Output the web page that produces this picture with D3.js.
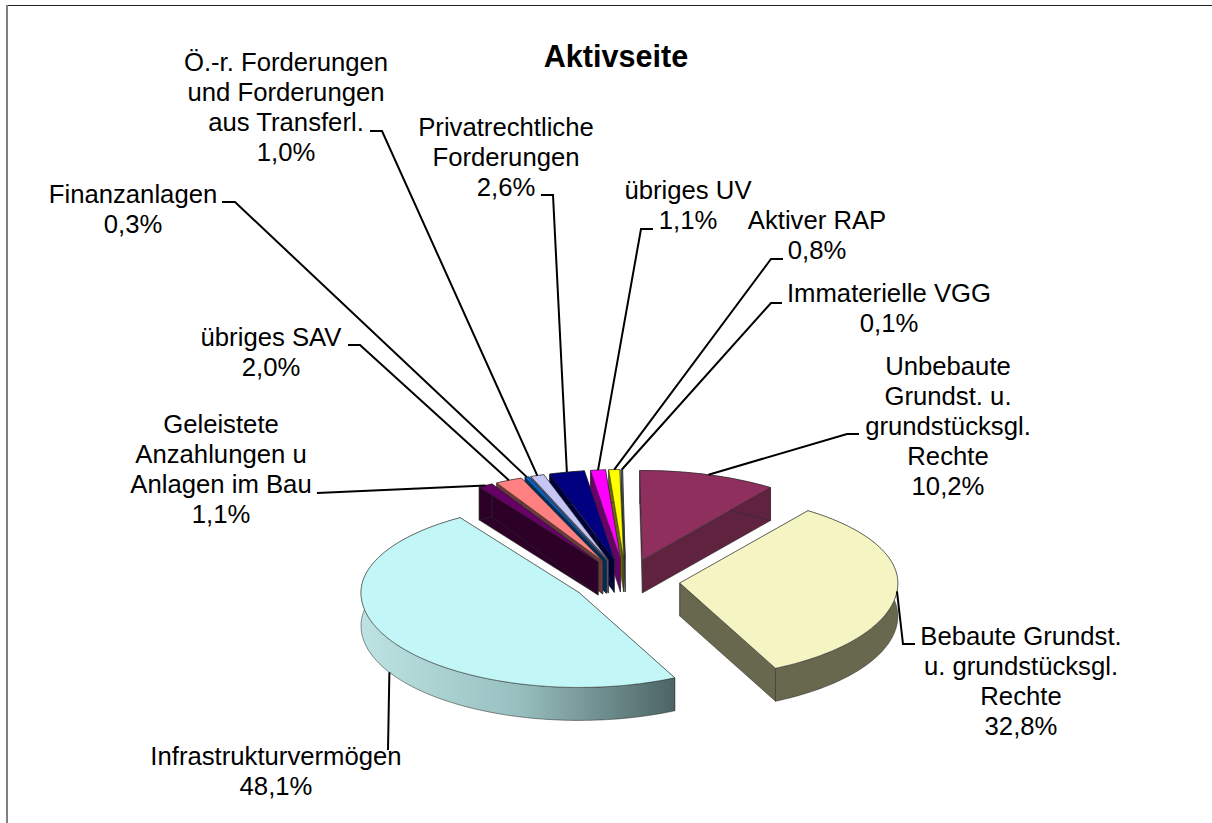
<!DOCTYPE html>
<html>
<head>
<meta charset="utf-8">
<script src="https://cdn.jsdelivr.net/npm/d3@7"></script>
<style>
html, body { margin: 0; padding: 0; background: #fff; }
svg { display: block; }
text { font-family: "Liberation Sans", Arial, sans-serif; fill: #000; }
</style>
</head>
<body>
<svg id="chart" width="1212" height="823"></svg>
<script>
// chart data, in pie order starting at 12 o'clock
var categories = ["Unbebaute Grundst. u. grundstücksgl. Rechte", "Bebaute Grundst. u. grundstücksgl. Rechte",
  "Infrastrukturvermögen", "Geleistete Anzahlungen u Anlagen im Bau", "übriges SAV", "Finanzanlagen",
  "Ö.-r. Forderungen und Forderungen aus Transferl.", "Privatrechtliche Forderungen", "übriges UV",
  "Aktiver RAP", "Immaterielle VGG"];
var values = [10.2, 32.8, 48.1, 1.1, 2.0, 0.3, 1.0, 2.6, 1.1, 0.8, 0.1];
var valueLabels = ["10,2%", "32,8%", "48,1%", "1,1%", "2,0%", "0,3%", "1,0%", "2,6%", "1,1%", "0,8%", "0,1%"];
var labelLines = [
  ["Unbebaute", "Grundst. u.", "grundstücksgl.", "Rechte"],
  ["Bebaute Grundst.", "u. grundstücksgl.", "Rechte"],
  ["Infrastrukturvermögen"],
  ["Geleistete", "Anzahlungen u", "Anlagen im Bau"],
  ["übriges SAV"],
  ["Finanzanlagen"],
  ["Ö.-r. Forderungen", "und Forderungen", "aus Transferl."],
  ["Privatrechtliche", "Forderungen"],
  ["übriges UV"],
  ["Aktiver RAP"],
  ["Immaterielle VGG"]
];

// styles per slice
var topColors = ["#8f2f5e", "#f5f5c4", "#c3f6f6", "#660066", "#ff8080", "#0066cc", "#c6c6f6", "#000080", "#ff00ff", "#ffff00", "#5f6f6f"];
var wallColors = ["#5f2340", "#68684f", "#b5dcdc", "#2c0027", "#6b3a3a", "#002c58", "#555570", "#000038", "#6b006b", "#6b6b00", "#3a4444"];

// label layout: centre x, first baseline
var labelX = [948, 1021, 276, 221, 271, 133, 286, 506, 688, 817, 889];
var labelY = [375, 645, 765, 433, 346, 203, 71, 136, 199, 229, 302];
// leader line: start next to the text, then elbow
var leaderStart = [[859, 434], [915, 644], null, [317, 493], [348, 345], [222, 202], [370, 131], [541, 195], [653, 229], [783, 259], [782, 303]];
var leaderElbow = [[847, 434], [903, 644], [388, 750], null, [360, 345], [235, 202], [382, 131], [553, 195], [641, 229], [771, 259], [771, 303]];

var width = 1212, height = 823;
var cx = 626, cy = 581;
var rx = 218, tiltBack = 0.41, tiltFront = 0.435, depth = 33, explode = 54;
var LINE = 30;

var svg = d3.select("#chart");

var grad = svg.append("defs").append("linearGradient")
  .attr("id", "infraWall").attr("gradientUnits", "userSpaceOnUse")
  .attr("x1", 360).attr("x2", 673).attr("y1", 0).attr("y2", 0);
grad.append("stop").attr("offset", "0%").attr("stop-color", "#bde3e3");
grad.append("stop").attr("offset", "50%").attr("stop-color", "#99c0c0");
grad.append("stop").attr("offset", "100%").attr("stop-color", "#4d6566");

// frame
svg.append("line").attr("x1", 6).attr("x2", width).attr("y1", 5.5).attr("y2", 5.5)
  .style("stroke", "#222").style("stroke-width", 1);
svg.append("line").attr("x1", 7).attr("x2", 7).attr("y1", 5).attr("y2", height)
  .style("stroke", "#808080").style("stroke-width", 2);

var pie = d3.pie().sort(null).startAngle(-0.012).endAngle(2 * Math.PI - 0.012);
var arcs = pie(values);

var rScale = d3.scaleLinear().domain([0, 1]).range([0, rx]);

// front half of the disc is a little taller than the back, the view has some perspective
function project(angle, r, tip) {
  var c = Math.cos(angle);
  return [tip[0] + Math.sin(angle) * r, tip[1] - c * r * (c < 0 ? tiltFront : tiltBack)];
}

function tipOf(d) {
  var mid = (d.startAngle + d.endAngle) / 2;
  return project(mid, explode, [cx, cy]);
}

function arcPoints(d, tip) {
  var n = Math.max(4, Math.ceil((d.endAngle - d.startAngle) * 40));
  return d3.range(n + 1).map(function(i) {
    return project(d.startAngle + (d.endAngle - d.startAngle) * i / n, rScale(1), tip);
  });
}

function down(p) { return [p[0], p[1] + depth]; }

var line = d3.line();

// back to front: small slices from right to left, the left ones hide the walls of the next
var drawOrder = [10, 9, 8, 7, 6, 5, 4, 3, 0, 1, 2];
var pieG = svg.append("g");

drawOrder.forEach(function(i) {
  var d = arcs[i];
  var tip = tipOf(d);
  var pts = arcPoints(d, tip);
  var first = pts[0], last = pts[pts.length - 1];
  var wall = i == 2 ? "url(#infraWall)" : wallColors[i];
  var g = pieG.append("g");

  var walls = [
    [tip, first, down(first), down(tip)],
    [tip, last, down(last), down(tip)],
    pts.concat(pts.slice().reverse().map(down))
  ];
  walls.forEach(function(w) {
    g.append("path").attr("d", line(w) + "Z")
      .style("fill", wall).style("stroke", "#2a2a2a").style("stroke-width", 0.7)
      .style("stroke-opacity", 0.75).style("stroke-linejoin", "round");
  });
  g.append("path").attr("d", line([tip].concat(pts)) + "Z")
    .style("fill", topColors[i]).style("stroke", "#2a2a2a").style("stroke-width", 0.7)
    .style("stroke-opacity", 0.75).style("stroke-linejoin", "round");
});

// leaders
var leaderG = svg.append("g");
arcs.forEach(function(d, i) {
  var mid = (d.startAngle + d.endAngle) / 2;
  var anchor = project(mid, rScale(1), tipOf(d));
  if (i == 2) anchor = down(anchor);
  var pts = [];
  if (leaderStart[i]) pts.push(leaderStart[i]);
  if (leaderElbow[i]) pts.push(leaderElbow[i]);
  pts.push(anchor);
  leaderG.append("path").attr("d", line(pts))
    .style("fill", "none").style("stroke", "#000").style("stroke-width", 2);
});

// labels
var labelG = svg.append("g").style("font-size", "25.7px").attr("text-anchor", "middle");
arcs.forEach(function(d, i) {
  var rows = labelLines[i].concat([valueLabels[i]]);
  rows.forEach(function(t, k) {
    labelG.append("text").attr("x", labelX[i]).attr("y", labelY[i] + k * LINE).text(t);
  });
});

svg.append("text").attr("x", 616).attr("y", 67).attr("text-anchor", "middle")
  .style("font-size", "30.6px").style("font-weight", "bold").text("Aktivseite");
</script>
</body>
</html>
